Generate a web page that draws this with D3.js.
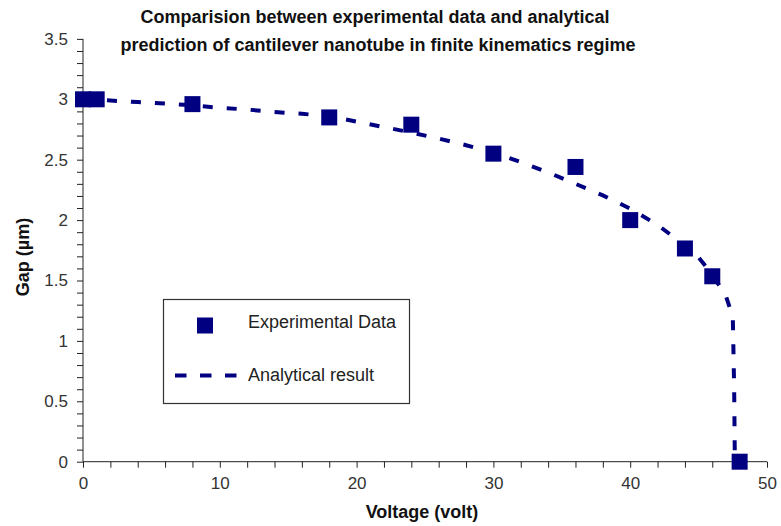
<!DOCTYPE html>
<html><head><meta charset="utf-8">
<script src="https://cdn.jsdelivr.net/npm/d3@7"></script>
<style>body{margin:0;background:#fff}svg{display:block}</style>
</head><body>
<svg id="c" width="781" height="526"></svg>
<script>
const titleLines = ["Comparision between experimental data and analytical",
                    "prediction of cantilever nanotube in finite kinematics regime"];
const xLabel = "Voltage (volt)";
const yLabel = "Gap (µm)";
const seriesNames = ["Experimental Data", "Analytical result"];

const expVoltage = [0, 1, 8, 18, 24, 30, 36, 40, 44, 46, 48];
const expGap     = [3.0, 3.0, 2.96, 2.85, 2.79, 2.55, 2.44, 2.0, 1.765, 1.535, 0.0];

const anaVoltage = [0, 2, 4, 6, 8, 10, 12, 14, 16, 18, 20, 22, 24, 26, 28, 30, 32, 34, 36, 38, 40, 42, 44, 45, 46, 47, 47.5, 47.6, 47.65];
const anaGap     = [3.0, 2.99, 2.977, 2.965, 2.95, 2.93, 2.915, 2.895, 2.88, 2.86, 2.815, 2.77, 2.725, 2.675, 2.62, 2.56, 2.48, 2.395, 2.30, 2.205, 2.095, 1.96, 1.79, 1.69, 1.55, 1.37, 1.2, 0.6, 0.0];

const xMajorTicks = [0, 10, 20, 30, 40, 50];
const yMajorTicks = [0, 0.5, 1, 1.5, 2, 2.5, 3, 3.5];

const navy = "#000080";
const ink = "#222";
const font = "'Liberation Sans', Arial, sans-serif";

const svg = d3.select("#c");
const x = d3.scaleLinear().domain([0, 50]).range([83, 767]);
const y = d3.scaleLinear().domain([0, 3.5]).range([461.7, 38.9]);

// title
svg.append("g").selectAll("text").data(titleLines).join("text")
  .attr("x", (d, i) => i === 0 ? 375 : 378).attr("y", (d, i) => 23 + i * 28)
  .attr("text-anchor", "middle").attr("font-family", font)
  .attr("font-weight", "bold").attr("font-size", 18).attr("fill", "#111")
  .text(d => d);

// x axis
const xAxis = d3.axisBottom(x).tickValues(d3.range(0, 50.001, 2)).tickSize(6)
  .tickFormat(d => xMajorTicks.includes(d) ? d3.format("d")(d) : "");
const gx = svg.append("g").attr("transform", `translate(0,${y(0)})`).call(xAxis);
gx.select(".domain").attr("stroke", ink).attr("d", `M${x(0)},0H${x(50)}`);
gx.selectAll(".tick line").attr("stroke", ink);
gx.selectAll(".tick text").attr("font-family", font).attr("font-size", 17)
  .attr("fill", "#333").attr("dy", "1.05em");

// y axis
const yAxis = d3.axisLeft(y).tickValues(d3.range(0, 36).map(i => i / 10)).tickSize(6)
  .tickFormat(d => yMajorTicks.some(t => Math.abs(t - d) < 1e-9) ? d3.format("")(+d.toFixed(1)) : "");
const gy = svg.append("g").attr("transform", `translate(${x(0)},0)`).call(yAxis);
gy.select(".domain").attr("stroke", ink).attr("d", `M0,${y(0)}V${y(3.5)}`);
gy.selectAll(".tick line").attr("stroke", ink);
gy.selectAll(".tick text").attr("font-family", font).attr("font-size", 17)
  .attr("fill", "#333").attr("x", -15);

// axis titles
svg.append("text").attr("x", 422).attr("y", 518).attr("text-anchor", "middle")
  .attr("font-family", font).attr("font-weight", "bold").attr("font-size", 18)
  .attr("fill", "#111").text(xLabel);
svg.append("text").attr("transform", "translate(29,257) rotate(-90)")
  .attr("text-anchor", "middle").attr("font-family", font).attr("font-weight", "bold")
  .attr("font-size", 18).attr("fill", "#111").text(yLabel);

// analytical curve
const line = d3.line().x((d, i) => x(anaVoltage[i])).y(d => y(d));
svg.append("path").datum(anaGap).attr("d", line).attr("fill", "none")
  .attr("stroke", navy).attr("stroke-width", 4).attr("stroke-dasharray", "10,14");

// experimental points
const sq = 16;
svg.append("g").selectAll("rect").data(expGap).join("rect")
  .attr("x", (d, i) => x(expVoltage[i]) - sq / 2).attr("y", d => y(d) - sq / 2)
  .attr("width", sq).attr("height", sq).attr("fill", navy);

// legend
const lg = svg.append("g");
lg.append("rect").attr("x", 163.5).attr("y", 299.5).attr("width", 246).attr("height", 104)
  .attr("fill", "#fff").attr("stroke", "#333").attr("stroke-width", 1.2);
lg.append("rect").attr("x", 197).attr("y", 317.5).attr("width", sq).attr("height", sq).attr("fill", navy);
lg.append("line").attr("x1", 175).attr("x2", 237).attr("y1", 375.5).attr("y2", 375.5)
  .attr("stroke", navy).attr("stroke-width", 4).attr("stroke-dasharray", "11.5,13.5");
lg.selectAll("text.l").data(seriesNames).join("text").attr("class", "l")
  .attr("x", 248).attr("y", (d, i) => 328 + i * 53)
  .attr("font-family", font).attr("font-size", 18).attr("fill", "#222").text(d => d);
</script>
</body></html>
